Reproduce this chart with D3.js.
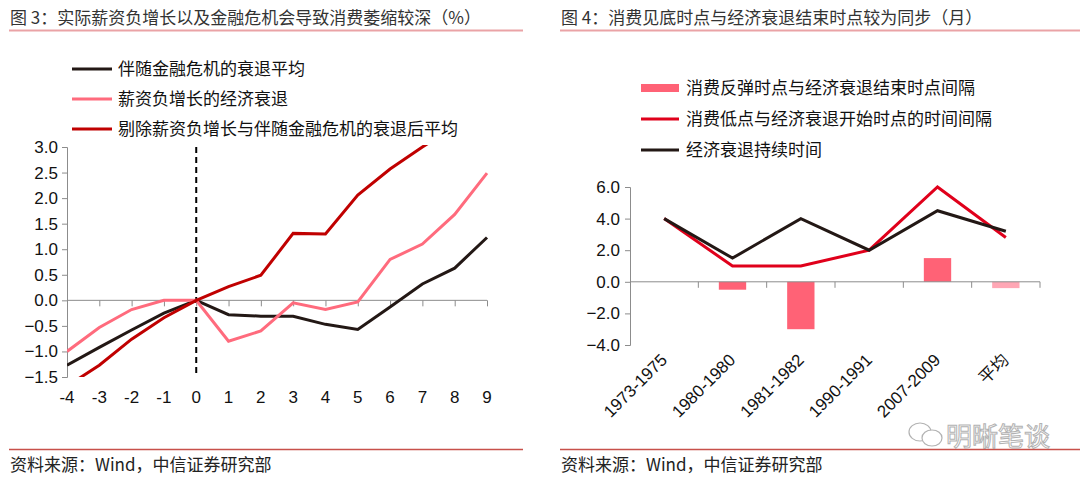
<!DOCTYPE html>
<html><head><meta charset="utf-8">
<script src="https://cdn.jsdelivr.net/npm/d3@7"></script>
<style>
body{margin:0;background:#fff;}
svg{display:block;font-family:"Liberation Sans","Noto Sans CJK SC",sans-serif;}
.cjk{font-family:"Noto Sans CJK SC","Liberation Sans",sans-serif;}
</style></head><body>
<svg id="c" width="1080" height="482"></svg>
<script>
// ---------- Data: chart 3 ----------
const leftX = [-4,-3,-2,-1,0,1,2,3,4,5,6,7,8,9];
const leftNames = ["伴随金融危机的衰退平均","薪资负增长的经济衰退","剔除薪资负增长与伴随金融危机的衰退后平均"];
const finCrisisAvg = [-1.27,-0.92,-0.58,-0.25,0,-0.28,-0.31,-0.31,-0.47,-0.57,-0.13,0.32,0.63,1.23];
const wageDecline = [-1.0,-0.53,-0.18,0.0,0,-0.8,-0.6,-0.05,-0.18,-0.03,0.8,1.1,1.68,2.49];
const otherAvg = [-1.68,-1.27,-0.76,-0.34,0,0.27,0.49,1.31,1.30,2.06,2.57,3.0,3.4,3.9];
const leftYTicks = [-1.5,-1.0,-0.5,0,0.5,1.0,1.5,2.0,2.5,3.0];
// ---------- Data: chart 4 ----------
const periods = ["1973-1975","1980-1980","1981-1982","1990-1991","2007-2009","平均"];
const rightNames = ["消费反弹时点与经济衰退结束时点间隔","消费低点与经济衰退开始时点的时间间隔","经济衰退持续时间"];
const reboundGap = [0,-0.5,-3.0,0,1.5,-0.4];
const lowGap = [4.0,1.0,1.0,2.0,6.0,2.8];
const duration = [4.0,1.5,4.0,2.0,4.5,3.2];
const rightYTicks = [-4,-2,0,2,4,6];

const svg = d3.select("#c");
const FS = 17;
const AX = "#8c8c8c";
const NUMF = "Liberation Sans, Noto Sans CJK SC, sans-serif";

// ---------- Headers / footers ----------
function header(x0, x1, text){
  svg.append("text").attr("class","cjk").attr("x",x0+1).attr("y",24).attr("font-size",FS).attr("fill","#333").text(text);
  svg.append("line").attr("x1",x0).attr("x2",x1).attr("y1",30.5).attr("y2",30.5).attr("stroke","#eaa3a6").attr("stroke-width",2);
}
function footer(x0, x1, text){
  svg.append("line").attr("x1",x0).attr("x2",x1).attr("y1",449.5).attr("y2",449.5).attr("stroke","#c8504a").attr("stroke-width",1.6);
  svg.append("text").attr("class","cjk").attr("x",x0+1).attr("y",471).attr("font-size",FS).attr("fill","#222").text(text);
}
header(9,523,"图 3：实际薪资负增长以及金融危机会导致消费萎缩较深（%）");
header(560,1080,"图 4：消费见底时点与经济衰退结束时点较为同步（月）");
footer(9,523,"资料来源：Wind，中信证券研究部");
footer(560,1080,"资料来源：Wind，中信证券研究部");

// ---------- Chart 3 ----------
const lx = d3.scaleLinear().domain([-4,9]).range([67,487]);
const ly = d3.scaleLinear().domain([-1.5,3]).range([377,147]);
const leftColors = ["#231815","#ff6b7d","#c00000"];

const gL = svg.append("g");
gL.append("defs").append("clipPath").attr("id","clipL").append("rect")
  .attr("x",lx(-4)).attr("y",ly(3)-2).attr("width",lx(9)-lx(-4)+2).attr("height",ly(-1.5)-ly(3)+2);

// y axis
const yAxisL = d3.axisLeft(ly).tickValues(leftYTicks).tickSize(5).tickFormat(d3.format(".1f"));
const gyl = gL.append("g").attr("transform",`translate(${lx(-4)},0)`).call(yAxisL);
gyl.attr("font-family",NUMF);
gyl.select(".domain").attr("stroke",AX);
gyl.selectAll(".tick line").attr("stroke",AX);
gyl.selectAll(".tick text").attr("font-size",FS).attr("fill","#111").attr("x",-9);

// x axis on zero
const xAxisL = d3.axisBottom(lx).tickValues(leftX).tickSize(6).tickFormat(d3.format("d"));
const gxl = gL.append("g").attr("transform",`translate(0,${ly(0)})`).call(xAxisL);
gxl.select(".domain").attr("stroke",AX).attr("d",`M${lx(-4)},0H${lx(9)}`);
gxl.selectAll(".tick line").attr("stroke",AX);
gxl.selectAll(".tick text").remove();
gL.append("g").selectAll("text").data(leftX).join("text")
  .attr("x",d=>lx(d)).attr("y",ly(-1.5)+26).attr("text-anchor","middle")
  .attr("font-size",FS).attr("fill","#111").text(d=>d);

// dashed zero line
gL.append("line").attr("x1",lx(0)).attr("x2",lx(0)).attr("y1",ly(3)).attr("y2",ly(-1.5))
  .attr("stroke","#000").attr("stroke-width",2).attr("stroke-dasharray","6,4");

const lineL = d3.line().x((d,i)=>lx(leftX[i])).y(d=>ly(d));
[finCrisisAvg, wageDecline, otherAvg].forEach((s,k)=>{
  gL.append("path").datum(s).attr("d",lineL).attr("fill","none")
    .attr("stroke",leftColors[k]).attr("stroke-width",3).attr("clip-path","url(#clipL)");
});

// legend
leftNames.forEach((n,k)=>{
  const y = 69 + k*30;
  gL.append("line").attr("x1",72).attr("x2",112).attr("y1",y).attr("y2",y).attr("stroke",leftColors[k]).attr("stroke-width",3);
  gL.append("text").attr("class","cjk").attr("x",118).attr("y",y+6).attr("font-size",FS).attr("fill","#111").text(n);
});

// ---------- Chart 4 ----------
const rx = d3.scaleBand().domain(periods).range([630,1040]);
const ry = d3.scaleLinear().domain([-4,6]).range([345,187]);
const gR = svg.append("g");

const yAxisR = d3.axisLeft(ry).tickValues(rightYTicks).tickSize(5).tickFormat(d3.format(".1f"));
const gyr = gR.append("g").attr("transform",`translate(${rx.range()[0]},0)`).call(yAxisR);
gyr.attr("font-family",NUMF);
gyr.select(".domain").attr("stroke",AX);
gyr.selectAll(".tick line").attr("stroke",AX);
gyr.selectAll(".tick text").attr("font-size",FS).attr("fill","#111").attr("x",-10);

// bars
const bw = rx.bandwidth()*0.4;
gR.append("g").selectAll("rect").data(reboundGap).join("rect")
  .attr("x",(d,i)=>rx(periods[i])+rx.bandwidth()/2-bw/2)
  .attr("width",bw)
  .attr("y",d=>ry(Math.max(0,d)))
  .attr("height",d=>Math.abs(ry(d)-ry(0)))
  .attr("fill",(d,i)=>i===periods.length-1?"#ffa7b5":"#ff6276");

// x axis on zero with ticks at band boundaries
gR.append("line").attr("x1",rx.range()[0]).attr("x2",rx.range()[1]).attr("y1",ry(0)).attr("y2",ry(0)).attr("stroke",AX);
gR.append("g").selectAll("line").data(periods).join("line")
  .attr("x1",d=>rx(d)+rx.step()).attr("x2",d=>rx(d)+rx.step())
  .attr("y1",ry(0)).attr("y2",ry(0)+6).attr("stroke",AX);

const lineR = d3.line().x((d,i)=>rx(periods[i])+rx.bandwidth()/2).y(d=>ry(d));
gR.append("path").datum(lowGap).attr("d",lineR).attr("fill","none").attr("stroke","#e0001b").attr("stroke-width",3);
gR.append("path").datum(duration).attr("d",lineR).attr("fill","none").attr("stroke","#231815").attr("stroke-width",3);

// rotated labels
gR.append("g").selectAll("text").data(periods).join("text")
  .attr("font-family",d=>/^\d/.test(d)?NUMF:"Noto Sans CJK SC")
  .attr("text-anchor","end")
  .attr("font-size",FS)
  .attr("fill","#111")
  .attr("transform",d=>`translate(${rx(d)+rx.bandwidth()/2+4},${ry(-4)+16}) rotate(-45)`)
  .text(d=>d);

// legend
const rColors = ["#ff6276","#e0001b","#231815"];
rightNames.forEach((n,k)=>{
  const y = 88 + k*31;
  if(k===0){
    gR.append("rect").attr("x",641).attr("y",y-4).attr("width",38).attr("height",8).attr("fill",rColors[0]);
  } else {
    gR.append("line").attr("x1",641).attr("x2",679).attr("y1",y).attr("y2",y).attr("stroke",rColors[k]).attr("stroke-width",3);
  }
  gR.append("text").attr("class","cjk").attr("x",686).attr("y",y+6).attr("font-size",FS).attr("fill","#111").text(n);
});

// watermark
const wm = svg.append("g").attr("opacity",0.75);
wm.append("ellipse").attr("cx",920).attr("cy",432).attr("rx",11).attr("ry",9).attr("fill","#fff").attr("stroke","#999").attr("stroke-width",1.2);
wm.append("ellipse").attr("cx",932).attr("cy",438).attr("rx",10).attr("ry",8).attr("fill","#fff").attr("stroke","#999").attr("stroke-width",1.2);
wm.append("text").attr("class","cjk").attr("x",946).attr("y",446).attr("font-size",26).attr("fill","#fff").attr("stroke","#999").attr("stroke-width",1).text("明晰笔谈");
</script>
</body></html>
